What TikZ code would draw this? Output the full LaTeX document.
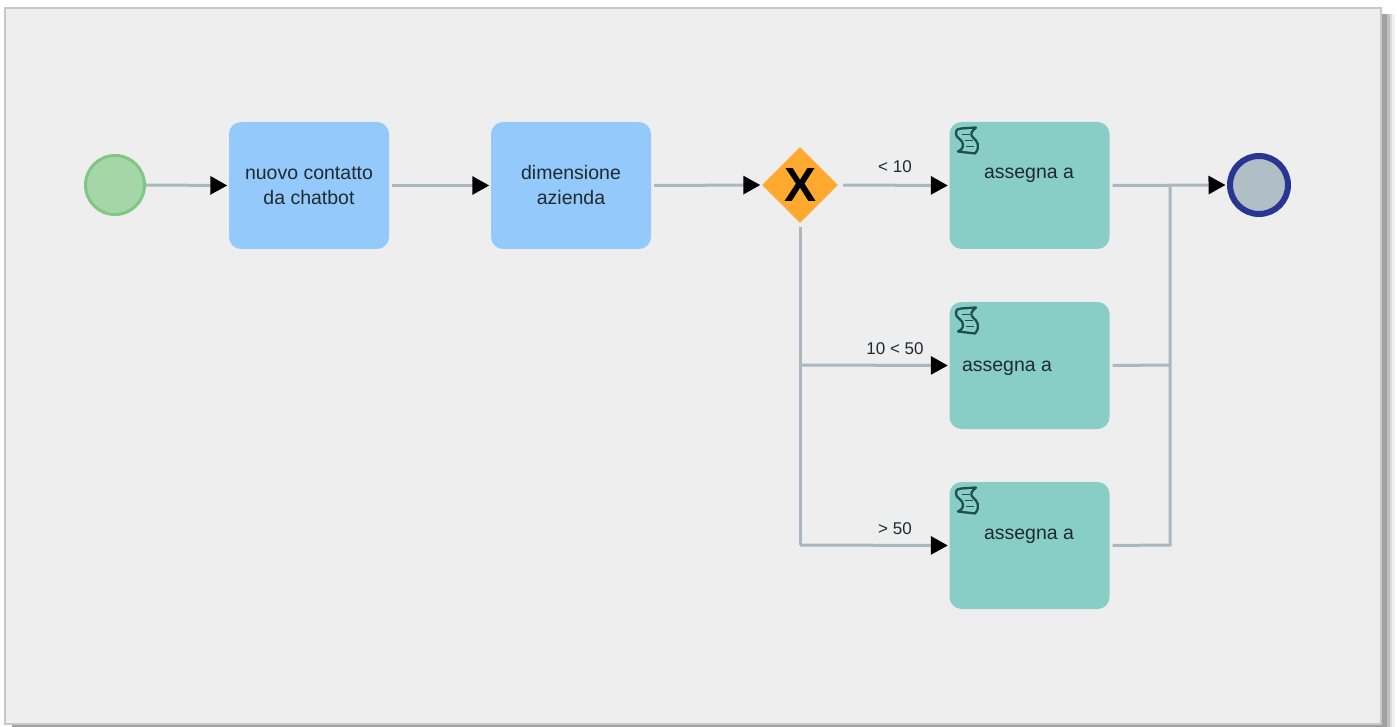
\documentclass[tikz,border=0pt]{standalone}
\usepackage{fontspec}
\setmainfont{Liberation Sans}
\usetikzlibrary{arrows.meta,shapes.geometric}

\definecolor{panelbg}{HTML}{EEEEEE}
\definecolor{panelline}{HTML}{C8C8C8}
\definecolor{wirecol}{HTML}{A9B8C0}
\definecolor{bluetask}{HTML}{94CAFB}
\definecolor{tealtask}{HTML}{88CEC7}
\definecolor{gwcol}{HTML}{FFA92F}
\definecolor{inkcol}{HTML}{1F2A2E}
\definecolor{iconcol}{HTML}{1F4F4C}
\definecolor{beginline}{HTML}{81C784}
\definecolor{beginfill}{HTML}{A5D6A7}
\definecolor{stopline}{HTML}{283593}
\definecolor{stopfill}{HTML}{B0BEC5}

\begin{document}
\begin{tikzpicture}[
    x=1pt, y=-1pt,
    startev/.style={circle, draw=beginline, line width=3pt, fill=beginfill,
        minimum size=59pt, inner sep=0pt},
    endev/.style={circle, draw=stopline, line width=6pt, fill=stopfill,
        minimum size=58pt, inner sep=0pt},
    task/.style={rectangle, rounded corners=12pt, minimum width=160pt, minimum height=127pt,
        inner sep=0pt, align=center, text=inkcol, font=\fontsize{19.5}{25}\selectfont},
    bluebox/.style={task, fill=bluetask},
    tealbox/.style={task, fill=tealtask},
    tasktext/.style={inner sep=0pt, text=inkcol, font=\fontsize{19.5}{25}\selectfont},
    gateway/.style={diamond, fill=gwcol, minimum width=76pt, minimum height=76pt, inner sep=0pt,
        font=\fontsize{48}{48}\selectfont\bfseries},
    wire/.style={draw=wirecol, line width=3pt},
    flow/.style={wire, -{Triangle[length=17pt,width=18pt,fill=black,color=black]}, shorten >=1.5pt},
    cond/.style={inner sep=0pt, text=inkcol, font=\fontsize{17}{20}\selectfont},
    scroll/.pic={
        \draw[iconcol, line width=2.3pt, line join=round]
            (-11,-7) .. controls (-11,-11) and (-9,-12) .. (-6,-12) -- (9,-13)
            .. controls (4,-9) and (3,-6) .. (6,-3)
            .. controls (10,0) and (14,6) .. (8,13)
            -- (-9,11) .. controls (-4,9) and (-3,5) .. (-5,1)
            .. controls (-7,-2) and (-11,-3) .. (-11,-7) -- cycle;
        \draw[iconcol, line width=1.7pt]
            (-5,-6) -- (3,-6) (-2,0) -- (6,0) (-1,6) -- (7,6);
    }
]
    \useasboundingbox (0,0) rectangle (1397,727);
    \fill[white] (0,0) rectangle (1397,727);
    \fill[black!5] (12,14) rectangle (1395,727);
    \fill[black!14] (12,14) rectangle (1392,727);
    \fill[black!25] (12,14) rectangle (1389.5,727);
    \fill[black!37] (12,14) rectangle (1387,727);
    \fill[panelbg, draw=panelline, line width=1.2pt] (5,8) rectangle (1381,724);

    \node[startev] (begin) at (115,185) {};
    \node[bluebox] (contact) at (309,185.5) {nuovo contatto\\da chatbot};
    \node[bluebox] (size) at (571,185.5) {dimensione\\azienda};
    \node[gateway] (gw) at (800,185) {X};
    \node[tealbox] (small) at (1029.5,185.5) {};
    \node[tealbox] (medium) at (1029.5,365.5) {};
    \node[tealbox] (large) at (1029.5,545.5) {};
    \node[endev] (stop) at (1259,185) {};

    \node[tasktext] (smalltext) at (1029,175) {assegna a};
    \node[tasktext] (mediumtext) at (1007,368.5) {assegna a};
    \node[tasktext] (largetext) at (1029,536.5) {assegna a};

    \pic at (967,140.5) {scroll};
    \pic at (967,320.5) {scroll};
    \pic at (967,500.5) {scroll};

    \coordinate (g2) at (800,365);
    \coordinate (g3) at (800,545);
    \coordinate (j1) at (1170,185);
    \coordinate (j2) at (1170,365);
    \coordinate (j3) at (1170,545);

    \draw[flow] (begin.east) -- (contact.west);
    \draw[flow, shorten <=3pt] (contact.east) -- (size.west);
    \draw[flow, shorten <=3pt] (size.east) -- (gw.west);
    \draw[flow, shorten <=5pt] (gw.east) -- (small.west);
    \draw[wire, shorten <=4pt] (gw.south) -- (g3);
    \draw[flow] (g2) -- (medium.west);
    \draw[flow] (g3) -- (large.west);
    \draw[flow, shorten <=3pt] (small.east) -- (stop.west);
    \draw[wire, shorten <=3pt] (medium.east) -- (j2);
    \draw[wire, shorten <=3pt] (large.east) -- (j3) -- (j1);

    \node[cond] (lab1) at (895,167) {< 10};
    \node[cond] (lab2) at (895,349) {10 < 50};
    \node[cond] (lab3) at (895,529) {> 50};
\end{tikzpicture}
\end{document}
